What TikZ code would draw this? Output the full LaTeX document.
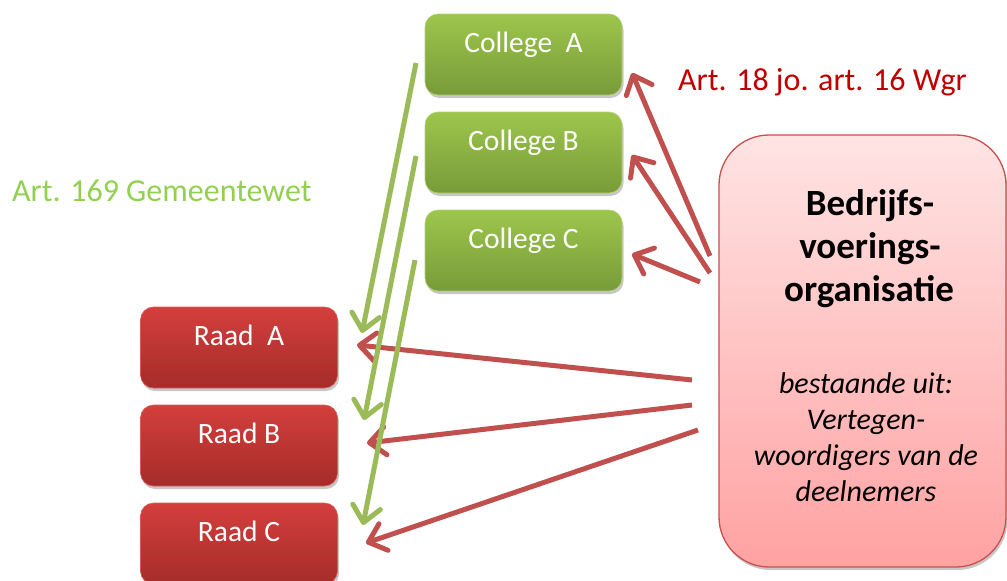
\documentclass[tikz,border=0pt]{standalone}
\usepackage{fontspec}
\setmainfont{Carlito}
\usetikzlibrary{arrows.meta,shadows}

\definecolor{collegeTop}{HTML}{9DC64C}
\definecolor{collegeBot}{HTML}{789B39}
\definecolor{raadTop}{HTML}{D33F3C}
\definecolor{raadBot}{HTML}{A52C2A}
\definecolor{orgTop}{HTML}{FFE4E4}
\definecolor{orgBot}{HTML}{FFA2A2}
\definecolor{orgLine}{HTML}{C9504D}
\definecolor{greenArrow}{HTML}{9BBB59}
\definecolor{redArrow}{HTML}{C0504D}
\definecolor{wgrText}{HTML}{C00000}
\definecolor{gemText}{HTML}{92D050}

\tikzset{
  softshadow/.style={drop shadow={shadow xshift=1.5pt,shadow yshift=-3pt,opacity=0.22,fill=black}},
  unitbox/.style={minimum width=197pt,minimum height=81pt,rounded corners=13pt,
    text=white,font=\fontsize{29.5}{34}\selectfont,
    text height=18pt,text depth=22pt,inner sep=0pt,softshadow},
  collegebox/.style={unitbox,top color=collegeTop,bottom color=collegeBot,draw=collegeTop!80!white,line width=0.6pt},
  raadbox/.style={unitbox,top color=raadTop,bottom color=raadBot,draw=raadTop!85!white,line width=0.6pt},
  orgbox/.style={minimum width=287pt,minimum height=432pt,rounded corners=50pt,
    top color=orgTop,bottom color=orgBot,draw=orgLine,line width=1.3pt,softshadow},
  titleline/.style={anchor=base,inner sep=0pt,font=\fontsize{37}{40}\selectfont\bfseries},
  subline/.style={anchor=base,inner sep=0pt,font=\fontsize{30}{34}\selectfont\itshape},
  lawlabel/.style={anchor=base west,inner sep=0pt,font=\fontsize{32}{36}\selectfont},
  greenlink/.style={draw=greenArrow,line width=5pt,
    -{Straight Barb[length=16pt,width=28pt,line width=5pt,round]}},
  redlink/.style={draw=redArrow,line width=5pt,
    -{Straight Barb[length=16pt,width=28pt,line width=5pt,round]}},
}

\begin{document}
\begin{tikzpicture}[x=1pt,y=-1pt]
\useasboundingbox (0,0) rectangle (1007,581);

% municipal colleges and councils
\node[collegebox] (ca) at (523.5,54.5) {College\ \ A};
\node[collegebox] (cb) at (523.5,152.5) {College B};
\node[collegebox] (cc) at (523.5,250.5) {College C};
\node[raadbox] (ra) at (239,347.5) {Raad\ \ A};
\node[raadbox] (rb) at (239,445.5) {Raad B};
\node[raadbox] (rc) at (239,543.5) {Raad C};

% joint operational organisation
\node[orgbox] (org) at (862.5,351) {};
\node[titleline] (t1) at (870,215) {Bedrijfs-};
\node[titleline] (t2) at (870,258) {voerings-};
\node[titleline] (t3) at (869,301) {organisatie};
\node[subline] (s1) at (866,393) {bestaande uit:};
\node[subline] (s2) at (866,429) {Vertegen-};
\node[subline] (s3) at (866,465) {woordigers van de};
\node[subline] (s4) at (866,501) {deelnemers};

% legal basis labels
\node[lawlabel,text=wgrText] (wgr) at (678,90) {Art. 18 jo. art. 16 Wgr};
\node[lawlabel,text=gemText] (gem) at (12,201) {Art. 169 Gemeentewet};

% start and end points of the connectors
\coordinate (oA) at (710,256);
\coordinate (oB) at (710,273);
\coordinate (oC) at (700,282);
\coordinate (oRA) at (692,380);
\coordinate (oRB) at (692,405);
\coordinate (oRC) at (698,430);
\coordinate (tA) at (632,73);
\coordinate (tB) at (632,155);
\coordinate (tC) at (632,254);
\coordinate (tRA) at (357,345);
\coordinate (tRB) at (367,443);
\coordinate (tRC) at (366,543);
\coordinate (gA) at (416,63);
\coordinate (gB) at (416,156);
\coordinate (gC) at (415,260);
\coordinate (hA) at (362,333);
\coordinate (hB) at (364,420);
\coordinate (hC) at (363,525);

% organisation to colleges and councils
\draw[redlink] (oA) -- (tA);
\draw[redlink] (oB) -- (tB);
\draw[redlink] (oC) -- (tC);
\draw[redlink] (oRA) -- (tRA);
\draw[redlink] (oRB) -- (tRB);
\draw[redlink] (oRC) -- (tRC);

% colleges accountable to councils
\draw[greenlink] (gA) -- (hA);
\draw[greenlink] (gB) -- (hB);
\draw[greenlink] (gC) -- (hC);
\end{tikzpicture}
\end{document}
